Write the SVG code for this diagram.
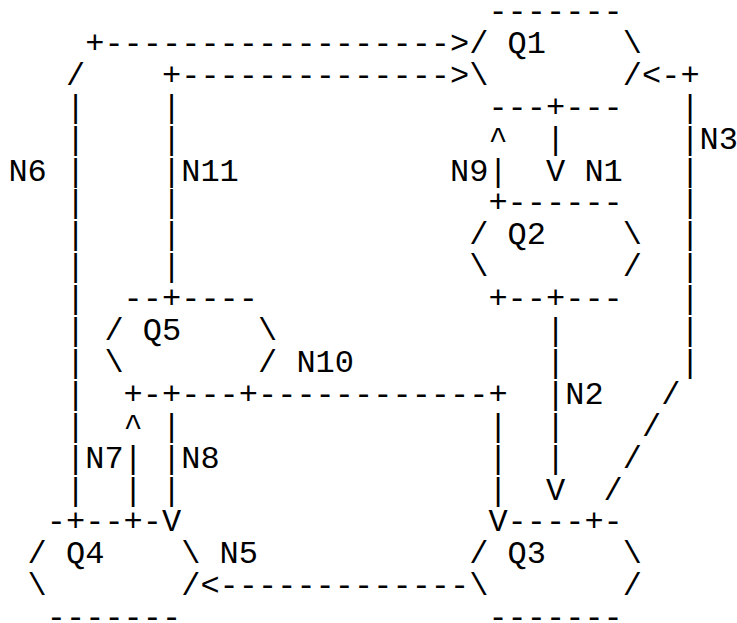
<svg xmlns="http://www.w3.org/2000/svg" width="737" height="623" viewBox="0 0 737 623">
<style>
text{font-family:"Liberation Mono","DejaVu Sans Mono",monospace;font-size:32px;fill:#000;white-space:pre}
</style>
<rect width="737" height="623" fill="#fff"/>
<g id="Q1">
<text x="488.4" y="21">-------</text>
<text x="469.2" y="52.9" xml:space="preserve">/ Q1    \</text>
<text x="469.2" y="84.8" xml:space="preserve">\       /</text>
<text x="488.4" y="116.7">---+---</text>
</g>
<g id="Q2">
<text x="488.4" y="212.4">+------</text>
<text x="469.2" y="244.3" xml:space="preserve">/ Q2    \</text>
<text x="469.2" y="276.2" xml:space="preserve">\       /</text>
<text x="488.4" y="308.1">+--+---</text>
</g>
<g id="Q3">
<text x="507.6" y="531.4">----+-</text>
<text x="469.2" y="563.3" xml:space="preserve">/ Q3    \</text>
<text x="469.2" y="595.2" xml:space="preserve">\       /</text>
<text x="488.4" y="627.1">-------</text>
</g>
<g id="Q4">
<text x="46.8" y="531.4">-+--+-</text>
<text x="27.6" y="563.3" xml:space="preserve">/ Q4    \</text>
<text x="27.6" y="595.2" xml:space="preserve">\       /</text>
<text x="46.8" y="627.1">-------</text>
</g>
<g id="Q5">
<text x="123.6" y="308.1">--+----</text>
<text x="104.4" y="340" xml:space="preserve">/ Q5    \</text>
<text x="104.4" y="371.9" xml:space="preserve">\       /</text>
<text x="123.6" y="403.8">+-+---+</text>
</g>
<g id="connectors">
<!-- N6 -->
<text x="85.2" y="52.9">+------------------&gt;</text>
<text x="66" y="84.8">/</text>
<text x="66 66 66 66 66 66 66 66 66 66 66 66 66" y="116.7 148.6 180.5 212.4 244.3 276.2 308.1 340 371.9 403.8 435.7 467.6 499.5">|||||||||||||</text>
<!-- N11 -->
<text x="162" y="84.8">+--------------&gt;</text>
<text x="162 162 162 162 162 162" y="116.7 148.6 180.5 212.4 244.3 276.2">||||||</text>
<!-- N3 -->
<text x="642" y="84.8">&lt;-+</text>
<text x="680.4 680.4 680.4 680.4 680.4 680.4 680.4 680.4 680.4" y="116.7 148.6 180.5 212.4 244.3 276.2 308.1 340 371.9">|||||||||</text>
<text x="661.2 642 622.8 603.6" y="403.8 435.7 467.6 499.5">////</text>
<!-- N1 -->
<text x="546 546" y="148.6 180.5">|V</text>
<!-- N9 -->
<text x="488.4 488.4" y="148.6 180.5">^|</text>
<!-- N2 -->
<text x="546 546 546 546 546 546" y="340 371.9 403.8 435.7 467.6 499.5">|||||V</text>
<!-- N10 -->
<text x="258" y="403.8">------------+</text>
<text x="488.4 488.4 488.4 488.4" y="435.7 467.6 499.5 531.4">|||V</text>
<!-- N7 -->
<text x="123.6 123.6 123.6" y="435.7 467.6 499.5">^||</text>
<!-- N8 -->
<text x="162 162 162 162" y="435.7 467.6 499.5 531.4">|||V</text>
<!-- N5 -->
<text x="200.4" y="595.2">&lt;-------------</text>
</g>
<g id="labels">
<text x="8.4" y="180.5">N6</text>
<text x="181.2" y="180.5">N11</text>
<text x="450" y="180.5">N9</text>
<text x="584.4" y="180.5">N1</text>
<text x="699.6" y="148.6">N3</text>
<text x="296.4" y="371.9">N10</text>
<text x="565.2" y="403.8">N2</text>
<text x="85.2" y="467.6">N7</text>
<text x="181.2" y="467.6">N8</text>
<text x="219.6" y="563.3">N5</text>
</g>
</svg>
